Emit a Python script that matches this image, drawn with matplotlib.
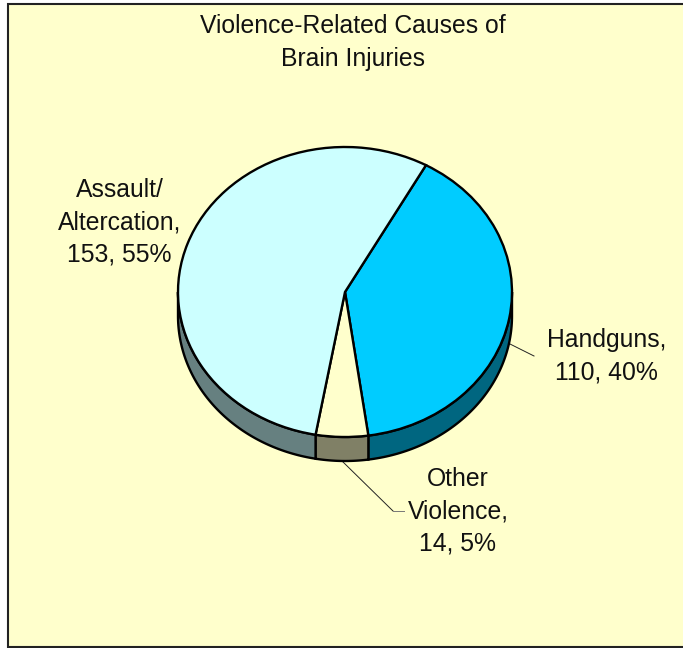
import numpy as np
import matplotlib
matplotlib.use("Agg")
import matplotlib.pyplot as plt
from matplotlib.patches import Rectangle, Polygon

title = "Violence-Related Causes of\nBrain Injuries"
categories = ["Handguns", "Other\nViolence", "Assault/\nAltercation"]
values = [110, 14, 153]
percents = [40, 5, 55]
top_colors = ["#00CCFF", "#FFFFCC", "#CCFFFF"]
side_colors = ["#006680", "#808066", "#668080"]

W, H = 683, 648
CX, CY, RX, RY, DEPTH = 345, 292, 167, 145, 24
FIRST_SLICE_DEG = 29

plt.rcParams["font.family"] = ["Liberation Sans", "DejaVu Sans"]
fig = plt.figure(figsize=(W / 100, H / 100), dpi=100, facecolor="white")
fig.add_artist(Rectangle((7.5 / W, 1 - 647 / H), (W + 10) / W, 643 / H, transform=fig.transFigure,
                         facecolor="#FFFFCC", edgecolor="#222222", linewidth=1.5, zorder=-1))
ax = fig.add_axes([0, 0, 1, 1])
ax.patch.set_alpha(0)

lw = 1.7
wedges, _ = ax.pie(values, colors=top_colors, startangle=90 - FIRST_SLICE_DEG, counterclock=False,
                   radius=1, wedgeprops=dict(edgecolor="black", linewidth=lw, zorder=3))
ax.set_aspect("auto")
ax.set_xlim(-CX / RX, (W - CX) / RX)
ax.set_ylim((CY - H) / RY, CY / RY)
ax.axis("off")

# Side wall of the pie from the same values
d = DEPTH / RY
edges = FIRST_SLICE_DEG + np.cumsum([0] + values) / sum(values) * 360
for a, b, c in zip(edges[:-1], edges[1:], side_colors):
    lo, hi = max(a, 90), min(b, 270)
    if hi <= lo:
        continue
    phi = np.radians(np.linspace(lo, hi, 80))
    x, y = np.sin(phi), np.cos(phi)
    pts = np.r_[np.c_[x, y], np.c_[x[::-1], y[::-1] - d]]
    ax.add_patch(Polygon(pts, closed=True, facecolor=c, edgecolor="black", linewidth=lw, zorder=2))


def px(x, y):
    return (x - CX) / RX, (CY - y) / RY


FS = 17.8
ls = 1.43
ax.text(*px(353, 42.5), title, ha="center", va="center", fontsize=FS, linespacing=ls, color="#111111")
label_pos = [(606.5, 356.5), (458, 511), (119.5, 222.5)]
for cat, v, p, pos in zip(categories, values, percents, label_pos):
    ax.text(*px(*pos), f"{cat},\n{v}, {p}%", ha="center", va="center", fontsize=FS, linespacing=ls, color="#111111")

# Leader lines
ax.plot(*zip(px(508, 343), px(534, 356)), color="#222222", lw=0.7, zorder=1)
ax.plot(*zip(px(342, 461), px(393, 511)), color="#222222", lw=0.7, zorder=1)
ax.plot(*zip(px(393, 511), px(404, 511)), color="#777777", lw=0.7, zorder=1)

fig.savefig("out.png", dpi=100, facecolor="white")
